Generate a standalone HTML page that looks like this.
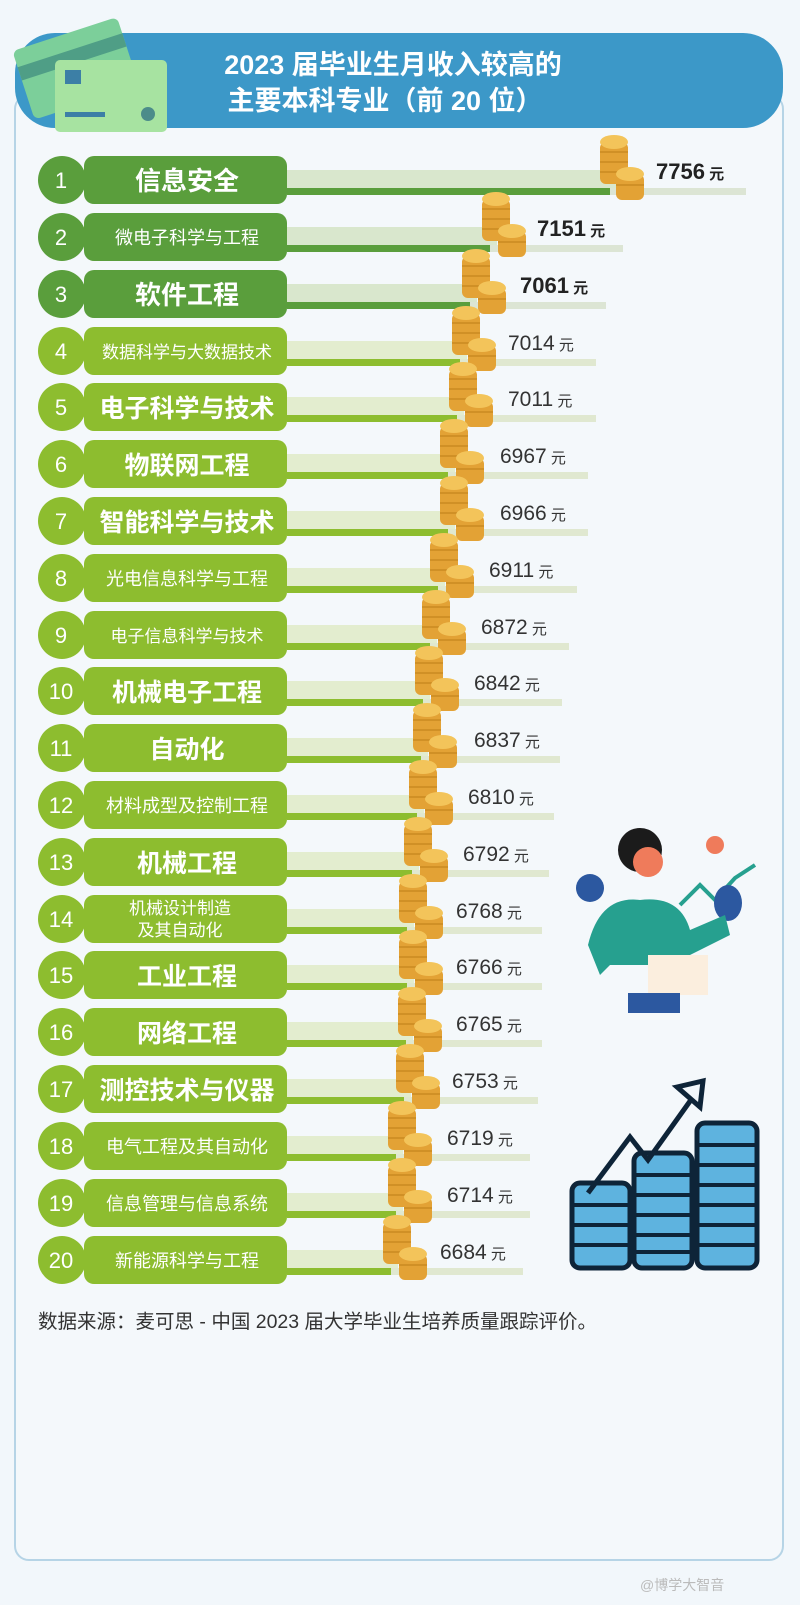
<!DOCTYPE html>
<html><head><meta charset="utf-8"><style>
html,body{margin:0;padding:0;background:#f2f7fb;}
svg{display:block;}
text{font-family:"Liberation Sans","Noto Sans CJK SC",sans-serif;}
</style></head><body>
<svg width="800" height="1605" viewBox="0 0 800 1605" xmlns="http://www.w3.org/2000/svg">
<defs>
<g id="coins">
 <rect x="0" y="-38" width="28" height="42" rx="6" fill="#e3a235"/>
 <ellipse cx="14" cy="-38" rx="14" ry="7" fill="#f3c45a"/>
 <line x1="0" y1="-28" x2="28" y2="-28" stroke="#c98a22" stroke-width="1.5"/>
 <line x1="0" y1="-18" x2="28" y2="-18" stroke="#c98a22" stroke-width="1.5"/>
 <line x1="0" y1="-8" x2="28" y2="-8" stroke="#c98a22" stroke-width="1.5"/>
 <rect x="16" y="-6" width="28" height="26" rx="6" fill="#e3a235"/>
 <ellipse cx="30" cy="-6" rx="14" ry="7" fill="#f3c45a"/>
 <line x1="16" y1="5" x2="44" y2="5" stroke="#c98a22" stroke-width="1.5"/>
</g>
</defs>
<rect x="0" y="0" width="800" height="1605" fill="#f2f7fb"/>
<rect x="15" y="95" width="768" height="1465" rx="14" fill="#f4f8fb" stroke="#b6d4e6" stroke-width="2"/>
<rect x="15" y="33" width="768" height="95" rx="40" fill="#3c98c8"/>
<g transform="rotate(-18 90 70)">
<rect x="22" y="28" width="110" height="72" rx="6" fill="#7ccf9a"/>
<rect x="22" y="45" width="110" height="14" fill="#4f9e86"/>
</g>
<rect x="55" y="60" width="112" height="72" rx="5" fill="#a7e3a1"/>
<rect x="65" y="70" width="16" height="14" fill="#3c7fa6"/>
<rect x="65" y="112" width="40" height="5" fill="#3c7fa6"/>
<circle cx="148" cy="114" r="7" fill="#4c8c8a"/>
<text x="393" y="74" font-size="27" font-weight="bold" fill="#fff" text-anchor="middle">2023 届毕业生月收入较高的</text>
<text x="385" y="110" font-size="27" font-weight="bold" fill="#fff" text-anchor="middle">主要本科专业（前 20 位）</text>

<g font-size="22">
<!-- 1 -->
<rect x="287" y="170" width="330" height="18" fill="#d9e7cd"/><rect x="287" y="188" width="330" height="7" fill="#5a9e3c"/><rect x="610" y="188" width="136" height="7" fill="#dce5d4"/>
<circle cx="62" cy="180" r="24" fill="#5a9e3c"/><rect x="84" y="156" width="203" height="48" rx="10" fill="#5a9e3c"/>
<text x="61" y="188" font-size="22" fill="#fff" text-anchor="middle">1</text><text x="187" y="190" font-size="26" font-weight="bold" fill="#fff" text-anchor="middle">信息安全</text>
<use href="#coins" x="600" y="180"/><text x="656" y="179" font-weight="bold" fill="#222">7756<tspan font-size="15"> 元</tspan></text>
<!-- 2 -->
<rect x="287" y="227" width="210" height="18" fill="#d9e7cd"/><rect x="287" y="245" width="210" height="7" fill="#5a9e3c"/><rect x="490" y="245" width="133" height="7" fill="#dce5d4"/>
<circle cx="62" cy="237" r="24" fill="#5a9e3c"/><rect x="84" y="213" width="203" height="48" rx="10" fill="#5a9e3c"/>
<text x="61" y="245" fill="#fff" text-anchor="middle">2</text><text x="187" y="244" font-size="18" fill="#fff" text-anchor="middle">微电子科学与工程</text>
<use href="#coins" x="482" y="237"/><text x="537" y="236" font-weight="bold" fill="#222">7151<tspan font-size="15"> 元</tspan></text>
<!-- 3 -->
<rect x="287" y="284" width="190" height="18" fill="#d9e7cd"/><rect x="287" y="302" width="190" height="7" fill="#5a9e3c"/><rect x="470" y="302" width="136" height="7" fill="#dce5d4"/>
<circle cx="62" cy="294" r="24" fill="#5a9e3c"/><rect x="84" y="270" width="203" height="48" rx="10" fill="#5a9e3c"/>
<text x="61" y="302" fill="#fff" text-anchor="middle">3</text><text x="187" y="304" font-size="26" font-weight="bold" fill="#fff" text-anchor="middle">软件工程</text>
<use href="#coins" x="462" y="294"/><text x="520" y="293" font-weight="bold" fill="#222">7061<tspan font-size="15"> 元</tspan></text>
</g>
<g font-size="21">
<!-- 4 -->
<rect x="287" y="341" width="180" height="18" fill="#e3edcf"/><rect x="287" y="359" width="180" height="7" fill="#8dbd2f"/><rect x="460" y="359" width="136" height="7" fill="#e0e8d0"/>
<circle cx="62" cy="351" r="24" fill="#8dbd2f"/><rect x="84" y="327" width="203" height="48" rx="10" fill="#8dbd2f"/>
<text x="61" y="359" font-size="22" fill="#fff" text-anchor="middle">4</text><text x="187" y="358" font-size="17" fill="#fff" text-anchor="middle">数据科学与大数据技术</text>
<use href="#coins" x="452" y="351"/><text x="508" y="350" fill="#333">7014<tspan font-size="15"> 元</tspan></text>
<!-- 5 -->
<rect x="287" y="397" width="177" height="18" fill="#e3edcf"/><rect x="287" y="415" width="177" height="7" fill="#8dbd2f"/><rect x="457" y="415" width="139" height="7" fill="#e0e8d0"/>
<circle cx="62" cy="407" r="24" fill="#8dbd2f"/><rect x="84" y="383" width="203" height="48" rx="10" fill="#8dbd2f"/>
<text x="61" y="415" font-size="22" fill="#fff" text-anchor="middle">5</text><text x="187" y="417" font-size="25" font-weight="bold" fill="#fff" text-anchor="middle">电子科学与技术</text>
<use href="#coins" x="449" y="407"/><text x="508" y="406" fill="#333">7011<tspan font-size="15"> 元</tspan></text>
<!-- 6 -->
<rect x="287" y="454" width="168" height="18" fill="#e3edcf"/><rect x="287" y="472" width="168" height="7" fill="#8dbd2f"/><rect x="448" y="472" width="140" height="7" fill="#e0e8d0"/>
<circle cx="62" cy="464" r="24" fill="#8dbd2f"/><rect x="84" y="440" width="203" height="48" rx="10" fill="#8dbd2f"/>
<text x="61" y="472" font-size="22" fill="#fff" text-anchor="middle">6</text><text x="187" y="474" font-size="25" font-weight="bold" fill="#fff" text-anchor="middle">物联网工程</text>
<use href="#coins" x="440" y="464"/><text x="500" y="463" fill="#333">6967<tspan font-size="15"> 元</tspan></text>
<!-- 7 -->
<rect x="287" y="511" width="168" height="18" fill="#e3edcf"/><rect x="287" y="529" width="168" height="7" fill="#8dbd2f"/><rect x="448" y="529" width="140" height="7" fill="#e0e8d0"/>
<circle cx="62" cy="521" r="24" fill="#8dbd2f"/><rect x="84" y="497" width="203" height="48" rx="10" fill="#8dbd2f"/>
<text x="61" y="529" font-size="22" fill="#fff" text-anchor="middle">7</text><text x="187" y="531" font-size="25" font-weight="bold" fill="#fff" text-anchor="middle">智能科学与技术</text>
<use href="#coins" x="440" y="521"/><text x="500" y="520" fill="#333">6966<tspan font-size="15"> 元</tspan></text>
<!-- 8 -->
<rect x="287" y="568" width="158" height="18" fill="#e3edcf"/><rect x="287" y="586" width="158" height="7" fill="#8dbd2f"/><rect x="438" y="586" width="139" height="7" fill="#e0e8d0"/>
<circle cx="62" cy="578" r="24" fill="#8dbd2f"/><rect x="84" y="554" width="203" height="48" rx="10" fill="#8dbd2f"/>
<text x="61" y="586" font-size="22" fill="#fff" text-anchor="middle">8</text><text x="187" y="585" font-size="18" fill="#fff" text-anchor="middle">光电信息科学与工程</text>
<use href="#coins" x="430" y="578"/><text x="489" y="577" fill="#333">6911<tspan font-size="15"> 元</tspan></text>
<!-- 9 -->
<rect x="287" y="625" width="150" height="18" fill="#e3edcf"/><rect x="287" y="643" width="150" height="7" fill="#8dbd2f"/><rect x="430" y="643" width="139" height="7" fill="#e0e8d0"/>
<circle cx="62" cy="635" r="24" fill="#8dbd2f"/><rect x="84" y="611" width="203" height="48" rx="10" fill="#8dbd2f"/>
<text x="61" y="643" font-size="22" fill="#fff" text-anchor="middle">9</text><text x="187" y="642" font-size="17" fill="#fff" text-anchor="middle">电子信息科学与技术</text>
<use href="#coins" x="422" y="635"/><text x="481" y="634" fill="#333">6872<tspan font-size="15"> 元</tspan></text>
<!-- 10 -->
<rect x="287" y="681" width="143" height="18" fill="#e3edcf"/><rect x="287" y="699" width="143" height="7" fill="#8dbd2f"/><rect x="423" y="699" width="139" height="7" fill="#e0e8d0"/>
<circle cx="62" cy="691" r="24" fill="#8dbd2f"/><rect x="84" y="667" width="203" height="48" rx="10" fill="#8dbd2f"/>
<text x="61" y="699" font-size="22" fill="#fff" text-anchor="middle">10</text><text x="187" y="701" font-size="25" font-weight="bold" fill="#fff" text-anchor="middle">机械电子工程</text>
<use href="#coins" x="415" y="691"/><text x="474" y="690" fill="#333">6842<tspan font-size="15"> 元</tspan></text>
<!-- 11 -->
<rect x="287" y="738" width="141" height="18" fill="#e3edcf"/><rect x="287" y="756" width="141" height="7" fill="#8dbd2f"/><rect x="421" y="756" width="139" height="7" fill="#e0e8d0"/>
<circle cx="62" cy="748" r="24" fill="#8dbd2f"/><rect x="84" y="724" width="203" height="48" rx="10" fill="#8dbd2f"/>
<text x="61" y="756" font-size="22" fill="#fff" text-anchor="middle">11</text><text x="187" y="758" font-size="25" font-weight="bold" fill="#fff" text-anchor="middle">自动化</text>
<use href="#coins" x="413" y="748"/><text x="474" y="747" fill="#333">6837<tspan font-size="15"> 元</tspan></text>
<!-- 12 -->
<rect x="287" y="795" width="137" height="18" fill="#e3edcf"/><rect x="287" y="813" width="137" height="7" fill="#8dbd2f"/><rect x="417" y="813" width="137" height="7" fill="#e0e8d0"/>
<circle cx="62" cy="805" r="24" fill="#8dbd2f"/><rect x="84" y="781" width="203" height="48" rx="10" fill="#8dbd2f"/>
<text x="61" y="813" font-size="22" fill="#fff" text-anchor="middle">12</text><text x="187" y="812" font-size="18" fill="#fff" text-anchor="middle">材料成型及控制工程</text>
<use href="#coins" x="409" y="805"/><text x="468" y="804" fill="#333">6810<tspan font-size="15"> 元</tspan></text>
<!-- 13 -->
<rect x="287" y="852" width="132" height="18" fill="#e3edcf"/><rect x="287" y="870" width="132" height="7" fill="#8dbd2f"/><rect x="412" y="870" width="137" height="7" fill="#e0e8d0"/>
<circle cx="62" cy="862" r="24" fill="#8dbd2f"/><rect x="84" y="838" width="203" height="48" rx="10" fill="#8dbd2f"/>
<text x="61" y="870" font-size="22" fill="#fff" text-anchor="middle">13</text><text x="187" y="872" font-size="25" font-weight="bold" fill="#fff" text-anchor="middle">机械工程</text>
<use href="#coins" x="404" y="862"/><text x="463" y="861" fill="#333">6792<tspan font-size="15"> 元</tspan></text>
<!-- 14 -->
<rect x="287" y="909" width="127" height="18" fill="#e3edcf"/><rect x="287" y="927" width="127" height="7" fill="#8dbd2f"/><rect x="407" y="927" width="135" height="7" fill="#e0e8d0"/>
<circle cx="62" cy="919" r="24" fill="#8dbd2f"/><rect x="84" y="895" width="203" height="48" rx="10" fill="#8dbd2f"/>
<text x="61" y="927" font-size="22" fill="#fff" text-anchor="middle">14</text><text x="180" y="914" font-size="17" fill="#fff" text-anchor="middle">机械设计制造</text><text x="180" y="936" font-size="17" fill="#fff" text-anchor="middle">及其自动化</text>
<use href="#coins" x="399" y="919"/><text x="456" y="918" fill="#333">6768<tspan font-size="15"> 元</tspan></text>
<!-- 15 -->
<rect x="287" y="965" width="127" height="18" fill="#e3edcf"/><rect x="287" y="983" width="127" height="7" fill="#8dbd2f"/><rect x="407" y="983" width="135" height="7" fill="#e0e8d0"/>
<circle cx="62" cy="975" r="24" fill="#8dbd2f"/><rect x="84" y="951" width="203" height="48" rx="10" fill="#8dbd2f"/>
<text x="61" y="983" font-size="22" fill="#fff" text-anchor="middle">15</text><text x="187" y="985" font-size="25" font-weight="bold" fill="#fff" text-anchor="middle">工业工程</text>
<use href="#coins" x="399" y="975"/><text x="456" y="974" fill="#333">6766<tspan font-size="15"> 元</tspan></text>
<!-- 16 -->
<rect x="287" y="1022" width="126" height="18" fill="#e3edcf"/><rect x="287" y="1040" width="126" height="7" fill="#8dbd2f"/><rect x="406" y="1040" width="136" height="7" fill="#e0e8d0"/>
<circle cx="62" cy="1032" r="24" fill="#8dbd2f"/><rect x="84" y="1008" width="203" height="48" rx="10" fill="#8dbd2f"/>
<text x="61" y="1040" font-size="22" fill="#fff" text-anchor="middle">16</text><text x="187" y="1042" font-size="25" font-weight="bold" fill="#fff" text-anchor="middle">网络工程</text>
<use href="#coins" x="398" y="1032"/><text x="456" y="1031" fill="#333">6765<tspan font-size="15"> 元</tspan></text>
<!-- 17 -->
<rect x="287" y="1079" width="124" height="18" fill="#e3edcf"/><rect x="287" y="1097" width="124" height="7" fill="#8dbd2f"/><rect x="404" y="1097" width="134" height="7" fill="#e0e8d0"/>
<circle cx="62" cy="1089" r="24" fill="#8dbd2f"/><rect x="84" y="1065" width="203" height="48" rx="10" fill="#8dbd2f"/>
<text x="61" y="1097" font-size="22" fill="#fff" text-anchor="middle">17</text><text x="187" y="1099" font-size="25" font-weight="bold" fill="#fff" text-anchor="middle">测控技术与仪器</text>
<use href="#coins" x="396" y="1089"/><text x="452" y="1088" fill="#333">6753<tspan font-size="15"> 元</tspan></text>
<!-- 18 -->
<rect x="287" y="1136" width="116" height="18" fill="#e3edcf"/><rect x="287" y="1154" width="116" height="7" fill="#8dbd2f"/><rect x="396" y="1154" width="134" height="7" fill="#e0e8d0"/>
<circle cx="62" cy="1146" r="24" fill="#8dbd2f"/><rect x="84" y="1122" width="203" height="48" rx="10" fill="#8dbd2f"/>
<text x="61" y="1154" font-size="22" fill="#fff" text-anchor="middle">18</text><text x="187" y="1153" font-size="18" fill="#fff" text-anchor="middle">电气工程及其自动化</text>
<use href="#coins" x="388" y="1146"/><text x="447" y="1145" fill="#333">6719<tspan font-size="15"> 元</tspan></text>
<!-- 19 -->
<rect x="287" y="1193" width="116" height="18" fill="#e3edcf"/><rect x="287" y="1211" width="116" height="7" fill="#8dbd2f"/><rect x="396" y="1211" width="134" height="7" fill="#e0e8d0"/>
<circle cx="62" cy="1203" r="24" fill="#8dbd2f"/><rect x="84" y="1179" width="203" height="48" rx="10" fill="#8dbd2f"/>
<text x="61" y="1211" font-size="22" fill="#fff" text-anchor="middle">19</text><text x="187" y="1210" font-size="18" fill="#fff" text-anchor="middle">信息管理与信息系统</text>
<use href="#coins" x="388" y="1203"/><text x="447" y="1202" fill="#333">6714<tspan font-size="15"> 元</tspan></text>
<!-- 20 -->
<rect x="287" y="1250" width="111" height="18" fill="#e3edcf"/><rect x="287" y="1268" width="111" height="7" fill="#8dbd2f"/><rect x="391" y="1268" width="132" height="7" fill="#e0e8d0"/>
<circle cx="62" cy="1260" r="24" fill="#8dbd2f"/><rect x="84" y="1236" width="203" height="48" rx="10" fill="#8dbd2f"/>
<text x="61" y="1268" font-size="22" fill="#fff" text-anchor="middle">20</text><text x="187" y="1267" font-size="18" fill="#fff" text-anchor="middle">新能源科学与工程</text>
<use href="#coins" x="383" y="1260"/><text x="440" y="1259" fill="#333">6684<tspan font-size="15"> 元</tspan></text>
</g>

<!-- person illustration -->
<circle cx="590" cy="888" r="14" fill="#2c58a0"/>
<circle cx="715" cy="845" r="9" fill="#ef7b5b"/>
<path d="M680 905 L700 885 L715 900 L735 878 L755 865" stroke="#26a08f" stroke-width="4" fill="none"/>
<ellipse cx="728" cy="903" rx="14" ry="18" fill="#2c58a0"/>
<circle cx="640" cy="850" r="22" fill="#1b1b1b"/>
<circle cx="648" cy="862" r="15" fill="#ef7b5b"/>
<path d="M588 945 Q600 895 640 900 Q680 895 690 930 L725 915 L730 935 L680 960 L675 965 L610 965 L600 975 Z" fill="#26a08f"/>
<rect x="648" y="955" width="60" height="40" fill="#fbeede"/>
<rect x="628" y="993" width="52" height="20" fill="#2c58a0"/>

<!-- coin stacks illustration -->
<g stroke="#0e2438" stroke-width="5" fill="#5eb3df">
<rect x="572" y="1183" width="58" height="85" rx="8"/>
<rect x="634" y="1153" width="58" height="115" rx="8"/>
<rect x="697" y="1123" width="60" height="145" rx="8"/>
</g>
<g stroke="#0e2438" stroke-width="4">
<line x1="572" y1="1205" x2="630" y2="1205"/><line x1="572" y1="1225" x2="630" y2="1225"/><line x1="572" y1="1245" x2="630" y2="1245"/>
<line x1="634" y1="1175" x2="692" y2="1175"/><line x1="634" y1="1195" x2="692" y2="1195"/><line x1="634" y1="1215" x2="692" y2="1215"/><line x1="634" y1="1235" x2="692" y2="1235"/><line x1="634" y1="1252" x2="692" y2="1252"/>
<line x1="697" y1="1145" x2="757" y2="1145"/><line x1="697" y1="1165" x2="757" y2="1165"/><line x1="697" y1="1185" x2="757" y2="1185"/><line x1="697" y1="1205" x2="757" y2="1205"/><line x1="697" y1="1225" x2="757" y2="1225"/><line x1="697" y1="1245" x2="757" y2="1245"/>
</g>
<path d="M588 1193 L630 1137 L648 1160 L698 1090" stroke="#0e2438" stroke-width="5" fill="none"/>
<path d="M677 1087 L703 1081 L700 1107 Z" stroke="#0e2438" stroke-width="5" fill="#f2f7fb"/>

<text x="38" y="1328" font-size="19.5" fill="#333">数据来源：麦可思 - 中国 2023 届大学毕业生培养质量跟踪评价。</text>
<text x="640" y="1590" font-size="14" fill="#bbb">@博学大智音</text>
</svg>
</body></html>
